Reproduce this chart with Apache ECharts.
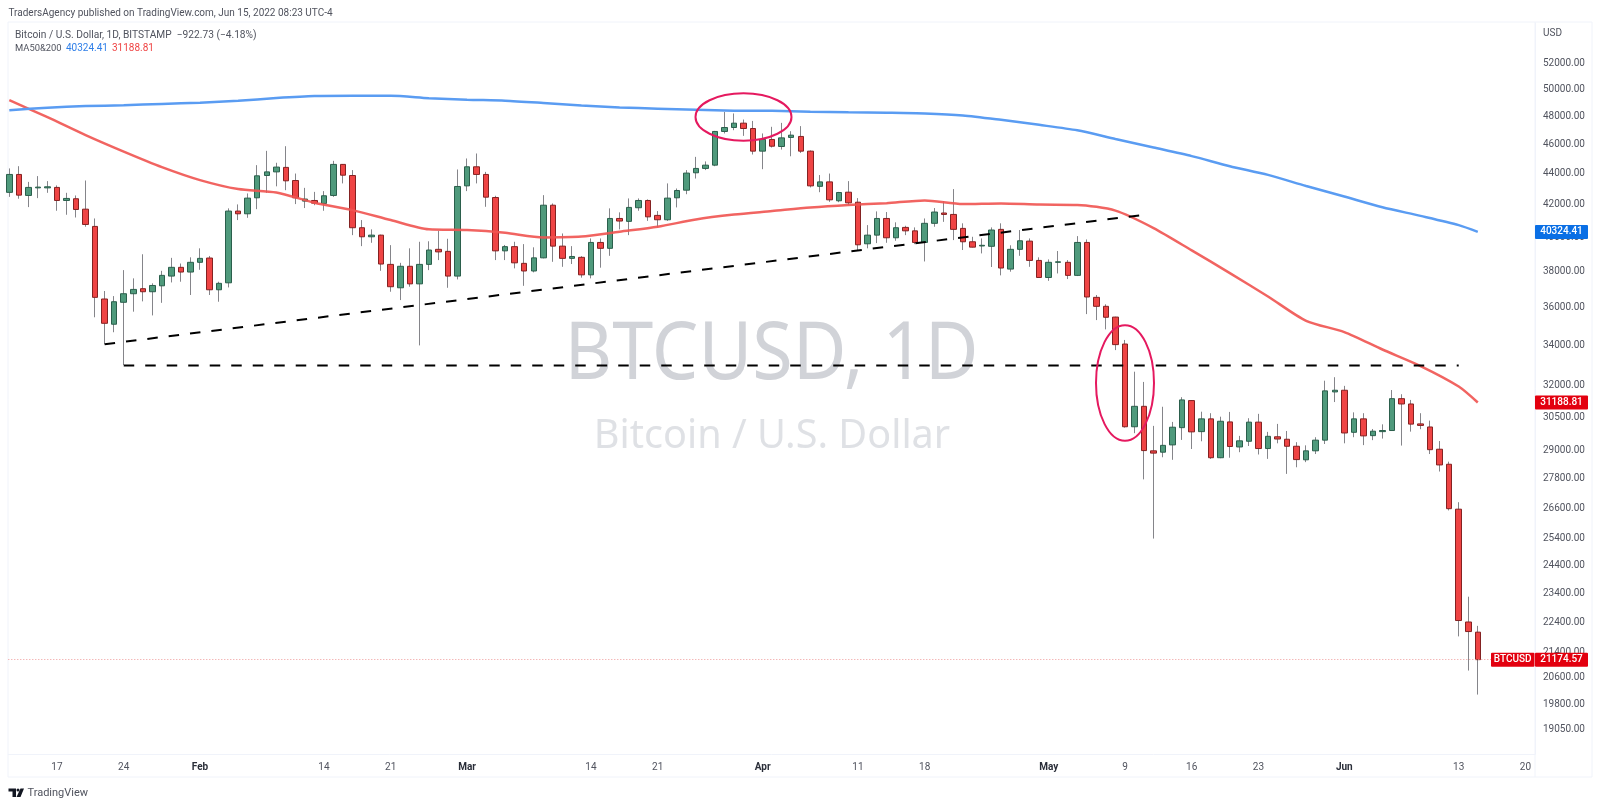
<!DOCTYPE html>
<html><head><meta charset="utf-8">
<style>html,body{margin:0;padding:0;background:#fff}#c{width:1600px;height:806px}</style>
<script src="https://cdn.jsdelivr.net/npm/echarts@6/dist/echarts.min.js"></script>
</head><body><div id="c"></div>
<script>
const dates = [
'2022-01-12','2022-01-13','2022-01-14','2022-01-15','2022-01-16','2022-01-17','2022-01-18','2022-01-19','2022-01-20','2022-01-21','2022-01-22','2022-01-23','2022-01-24','2022-01-25','2022-01-26','2022-01-27','2022-01-28','2022-01-29','2022-01-30','2022-01-31',
'2022-02-01','2022-02-02','2022-02-03','2022-02-04','2022-02-05','2022-02-06','2022-02-07','2022-02-08','2022-02-09','2022-02-10','2022-02-11','2022-02-12','2022-02-13','2022-02-14','2022-02-15','2022-02-16','2022-02-17','2022-02-18','2022-02-19','2022-02-20','2022-02-21','2022-02-22','2022-02-23','2022-02-24','2022-02-25','2022-02-26','2022-02-27','2022-02-28',
'2022-03-01','2022-03-02','2022-03-03','2022-03-04','2022-03-05','2022-03-06','2022-03-07','2022-03-08','2022-03-09','2022-03-10','2022-03-11','2022-03-12','2022-03-13','2022-03-14','2022-03-15','2022-03-16','2022-03-17','2022-03-18','2022-03-19','2022-03-20','2022-03-21','2022-03-22','2022-03-23','2022-03-24','2022-03-25','2022-03-26','2022-03-27','2022-03-28','2022-03-29','2022-03-30','2022-03-31',
'2022-04-01','2022-04-02','2022-04-03','2022-04-04','2022-04-05','2022-04-06','2022-04-07','2022-04-08','2022-04-09','2022-04-10','2022-04-11','2022-04-12','2022-04-13','2022-04-14','2022-04-15','2022-04-16','2022-04-17','2022-04-18','2022-04-19','2022-04-20','2022-04-21','2022-04-22','2022-04-23','2022-04-24','2022-04-25','2022-04-26','2022-04-27','2022-04-28','2022-04-29','2022-04-30',
'2022-05-01','2022-05-02','2022-05-03','2022-05-04','2022-05-05','2022-05-06','2022-05-07','2022-05-08','2022-05-09','2022-05-10','2022-05-11','2022-05-12','2022-05-13','2022-05-14','2022-05-15','2022-05-16','2022-05-17','2022-05-18','2022-05-19','2022-05-20','2022-05-21','2022-05-22','2022-05-23','2022-05-24','2022-05-25','2022-05-26','2022-05-27','2022-05-28','2022-05-29','2022-05-30','2022-05-31',
'2022-06-01','2022-06-02','2022-06-03','2022-06-04','2022-06-05','2022-06-06','2022-06-07','2022-06-08','2022-06-09','2022-06-10','2022-06-11','2022-06-12','2022-06-13','2022-06-14','2022-06-15'];
const opens = [
42800,43970,42600,43090,43090,43120,42280,42390,41730,40660,36450,35090,36270,36740,37020,36850,37180,37730,38230,37960,
38520,38770,36960,37350,41610,41440,42450,43900,44140,44440,43570,42240,42280,42090,42600,44640,43900,40580,40030,40130,38400,37070,38290,37290,38400,39280,39160,37730,
43220,44480,43970,42470,39190,39440,38460,38020,38780,41980,39470,38750,38810,37800,39690,39340,41150,40970,41820,42280,41340,41070,42450,42940,44080,44370,44590,46910,47190,47500,47120,
45540,46350,45860,46490,46560,45540,43190,43480,42260,42810,42170,39610,40130,41150,39970,40600,40390,39690,40850,41490,41400,40540,39730,39480,39460,40480,38130,39280,39770,38630,
37650,38520,38520,37770,39690,36540,36050,35470,34060,30070,31010,29000,28940,29260,30030,31280,29850,30430,28700,30290,29170,29420,30280,29100,29620,29510,29200,28610,29000,29470,31690,
31770,29820,30430,29670,29850,29900,31370,31120,30200,30060,29070,28420,26560,22410,22070];
const closes = [
43970,42620,43120,43140,43160,42280,42410,41710,40780,36540,35140,36300,36740,36980,36850,37200,37770,38230,37960,38520,
38750,36960,37320,41610,41440,42430,43880,44140,44460,43550,42450,42370,42110,42580,44640,43920,40580,40030,40130,38420,37130,38290,37290,38400,39240,39130,37730,43180,
44480,43970,42490,39190,39440,38490,38020,38780,41980,39470,38750,38860,37800,39690,39340,41150,40990,41840,42280,41250,41070,42430,42920,44060,44370,44590,46910,47190,47500,47120,45540,
46350,45880,46460,46650,45540,43220,43480,42320,42790,42130,39550,40130,41150,39970,40580,40390,39690,40850,41550,41400,40480,39730,39410,39520,40440,38190,39280,39790,38630,37650,
38520,38550,37770,39690,36560,36050,35460,34030,30070,31010,29010,28900,29240,30050,31310,29840,30430,28700,30320,29190,29440,30280,29100,29640,29520,29200,28620,29000,29470,31740,31770,
29790,30430,29660,29870,29900,31370,31120,30190,30130,29050,28390,26580,22460,22090,21174.57];
const lows = [
42510,42390,41860,42430,42770,41630,41380,41210,40640,35460,34050,34670,33000,35760,36320,35560,36240,37370,37410,36670,
38090,36670,36300,37090,41050,41190,41730,42770,43190,42940,42050,41800,41980,41630,42510,43380,40130,39470,39670,38030,36850,36390,37130,33990,38070,38650,37070,37540,
42880,43380,41880,38650,38650,38170,37180,37940,38750,38550,38260,38420,37640,37600,38210,38900,40480,40130,41630,41000,40600,41000,41840,42680,43700,44260,44520,46770,47000,46600,45310,
44320,45790,45650,45190,45420,43120,42810,42190,42170,41980,39240,39340,39650,39670,39790,40130,39590,38570,40640,40940,39830,39240,39390,39040,38250,37770,37980,38900,38260,37630,
37460,37880,37560,37730,35630,35310,34820,33750,30030,29780,27780,25410,28720,28610,29480,29080,29420,28650,28680,28700,28940,29210,28840,28650,29330,28010,28290,28510,28860,29300,31210,
29330,29600,29250,29470,29540,29900,29230,29850,29960,28860,28110,26510,21930,20830,20090];
const highs = [
44370,44520,43480,43860,43530,43250,42770,42600,43570,41150,36890,36610,38070,37600,38990,37320,38030,38780,38450,38810,
39340,38890,37410,41780,42030,42730,44590,45560,44750,45880,44030,43090,42830,42880,44880,44660,44260,41050,40480,40160,39530,38490,39340,39730,39760,40390,39910,44300,
45040,45380,44140,42580,39540,39730,39590,39400,42620,42090,40230,39470,38880,39930,39930,41780,41530,42410,42410,42350,41610,43380,43050,44260,45150,44840,46950,48310,48200,47760,47660,
46770,47240,47520,46930,47290,45590,43930,44030,42830,43530,42430,40740,41590,41550,40910,40700,40600,41150,41800,42240,43010,40850,40030,39930,40600,40850,39520,40440,39930,38810,
38690,39180,38650,40070,39870,36670,36160,35490,34270,32670,32170,30110,30990,30290,31440,31300,30760,30690,30530,30750,29660,30460,30660,29840,30200,29880,29380,29240,29600,32230,32400,
31980,30730,30690,29970,30180,31780,31580,31310,30690,30350,29430,28530,26840,23280,22280];

const maDates = ['2022-01-12','2022-01-16','2022-01-20','2022-01-24','2022-01-28','2022-02-01','2022-02-05','2022-02-09','2022-02-13','2022-02-17','2022-02-21','2022-02-25','2022-03-01','2022-03-05','2022-03-09','2022-03-13','2022-03-17','2022-03-21','2022-03-25','2022-03-29','2022-04-02','2022-04-06','2022-04-10','2022-04-14','2022-04-18','2022-04-22','2022-04-26','2022-04-30','2022-05-04','2022-05-08','2022-05-12','2022-05-16','2022-05-20','2022-05-24','2022-05-28','2022-06-01','2022-06-05','2022-06-09','2022-06-13','2022-06-15'];
const ma50 = [49170,47930,46650,45505,44455,43594,43010,42790,42140,41670,41050,40480,40435,40270,39990,40040,40340,40640,41090,41390,41610,41840,42000,42110,42280,42050,42090,42020,42000,41640,40560,39220,37900,36590,35270,34680,33780,32950,31950,31188.81];
const ma200 = [48436,48620,48735,48800,48900,48990,49130,49330,49480,49500,49500,49320,49205,49140,48970,48780,48640,48550,48470,48400,48390,48320,48280,48250,48200,48060,47740,47380,46990,46380,45790,45200,44520,43940,43210,42530,41850,41310,40740,40324.41];

const trendDates = ['2022-01-22','2022-05-10T12:00:00Z'];
const trendPrices = [34050,41340];
const supportDates = ['2022-01-24','2022-06-13'];
const supportPrices = [32980,32980];

const priceTicks = [52000,50000,48000,46000,44000,42000,40000,38000,36000,34000,32000,30500,29000,27800,26600,25400,24400,23400,22400,21400,20600,19800,19050];
const timeTicks = ['2022-01-17','2022-01-24','2022-02-01','2022-02-14','2022-02-21','2022-03-01','2022-03-14','2022-03-21','2022-04-01','2022-04-11','2022-04-18','2022-05-01','2022-05-09','2022-05-16','2022-05-23','2022-06-01','2022-06-13','2022-06-20'];
const monthNames = ['Jan','Feb','Mar','Apr','May','Jun'];
const lastPrice = 21174.57, lastMa50 = 31188.81, lastMa200 = 40324.41;

const T = s => Date.parse(s);
const DAY = 86400000;
const FONT = 'Roboto, sans-serif';
const UI = '"Noto Sans", sans-serif';

const chart = echarts.init(document.getElementById('c'), null, {renderer:'canvas'});
const wicks = dates.map((d,i)=>[T(d),opens[i],closes[i],lows[i],highs[i]]);
const bodies = dates.map((d,i)=>[T(d),opens[i],closes[i],Math.min(opens[i],closes[i]),Math.max(opens[i],closes[i])]);

const dashed = {color:'#000',width:2,type:[10.5,11]};
function lineSeries(name,xs,ys,style,z,extra){
  return Object.assign({name,type:'line',data:xs.map((d,i)=>[T(d),ys[i]]),symbol:'none',lineStyle:style,z,silent:true,animation:false},extra||{});
}

const option = {
  animation:false,
  backgroundColor:'#fff',
  grid:{left:8.3,right:65,top:23,bottom:52,containLabel:false},
  xAxis:{type:'value',scale:true,min:T('2022-01-12')-0.105*DAY,max:T('2022-06-21'),
    axisLine:{show:true,onZero:false,lineStyle:{color:'#f0f3fa'}},axisTick:{show:false},splitLine:{show:false},minorTick:{show:false},
    axisLabel:{customValues:timeTicks.map(T),margin:8,fontFamily:FONT,fontSize:10,color:'#50535e',hideOverlap:false,
      formatter:v=>{const d=new Date(v);return d.getUTCDate()===1?'{m|'+monthNames[d.getUTCMonth()]+'}':String(d.getUTCDate());},
      rich:{m:{fontFamily:FONT,fontSize:10,fontWeight:'bold',color:'#2a2e39'}}}},
  yAxis:{type:'log',logBase:10,position:'right',min:18370,max:55234,
    axisLine:{show:true,lineStyle:{color:'#f0f3fa'}},axisTick:{show:false},splitLine:{show:false},minorTick:{show:false},
    axisLabel:{customValues:priceTicks,margin:8,padding:[2,0,0,0],fontFamily:FONT,fontSize:10,color:'#50535e',hideOverlap:false,showMinLabel:true,showMaxLabel:true,
      formatter:v=>Number(v).toFixed(2)}},
  series:[
    {name:'wick',type:'candlestick',data:wicks,barWidth:1,z:3,silent:true,animation:false,clip:true,
      itemStyle:{color:'#85858a',color0:'#85858a',borderColor:'#85858a',borderColor0:'#85858a',borderWidth:1},
      markLine:{silent:true,symbol:'none',animation:false,label:{show:false},lineStyle:{color:'#ef9a9a',type:[1,2],width:1},data:[{yAxis:lastPrice}]}},
    {name:'BTCUSD',type:'candlestick',data:bodies,barWidth:6,z:4,silent:true,animation:false,clip:true,
      itemStyle:{color:'#4f9a7c',color0:'#ef4444',borderColor:'#2b5f4c',borderColor0:'#842222',borderWidth:1}},
    lineSeries('MA 50',maDates,ma50,{color:'#ef5350',width:2.5,opacity:0.9},5,{smooth:0.25}),
    lineSeries('MA 200',maDates,ma200,{color:'#5a9cf2',width:2.5},5,{smooth:0.25}),
    lineSeries('Trend',trendDates,trendPrices,dashed,6),
    lineSeries('Support',supportDates,supportPrices,dashed,6)
  ]
};
chart.setOption(option);

function py(v){return chart.convertToPixel({yAxisIndex:0},v);}
function tag(x,w,v,label,bg){
  const y=py(v);
  return [{type:'rect',z:20,shape:{x,y:y-7,width:w,height:14,r:1},style:{fill:bg}},
    {type:'text',z:21,style:{x:x+w/2,y,text:label,fill:'#fff',font:'500 10px '+FONT,textAlign:'center',textVerticalAlign:'middle'}}];
}
const frame='#f0f3fa';
chart.setOption({graphic:{elements:[
  {type:'rect',z:1,shape:{x:8,y:22,width:1584,height:755},style:{fill:'none',stroke:frame,lineWidth:1}},
  {type:'line',z:1,shape:{x1:1535,y1:22,x2:1535,y2:777},style:{stroke:frame,lineWidth:1}},
  {type:'text',z:1,style:{x:8.5,y:13,text:'TradersAgency published on TradingView.com, Jun 15, 2022 08:23 UTC-4',fill:'#50535e',font:'10px '+FONT,textVerticalAlign:'middle'}},
  {type:'text',z:1,style:{x:15,y:35,text:'Bitcoin / U.S. Dollar, 1D, BITSTAMP  \u2212922.73 (\u22124.18%)',fill:'#50535e',font:'10.2px '+FONT,textVerticalAlign:'middle'}},
  {type:'text',z:1,style:{x:15,y:48.5,text:'MA50&200',fill:'#50535e',font:'9.4px '+FONT,textVerticalAlign:'middle'}},
  {type:'text',z:1,style:{x:66,y:48.5,text:'40324.41',fill:'#2f7fe8',font:'10px '+FONT,textVerticalAlign:'middle'}},
  {type:'text',z:1,style:{x:112,y:48.5,text:'31188.81',fill:'#ef4444',font:'10px '+FONT,textVerticalAlign:'middle'}},
  {type:'text',z:1,style:{x:1543,y:33.5,text:'USD',fill:'#50535e',font:'10px '+FONT,textVerticalAlign:'middle'}},
  {type:'text',z:0,x:771.5,y:355.5,scaleX:0.91,style:{x:0,y:0,text:'BTCUSD, 1D',fill:'#d1d3d8',font:'81px '+UI,textAlign:'center',textVerticalAlign:'middle'}},
  {type:'text',z:0,style:{x:772,y:437,text:'Bitcoin / U.S. Dollar',fill:'#dfe1e5',font:'39.6px '+UI,textAlign:'center',textVerticalAlign:'middle'}},
  {type:'ellipse',z:10,shape:{cx:743.5,cy:117,rx:48,ry:23.7},style:{fill:'none',stroke:'#e5195f',lineWidth:2}},
  {type:'ellipse',z:10,shape:{cx:1125,cy:383,rx:29,ry:57.8},style:{fill:'none',stroke:'#e5195f',lineWidth:2}},
  ...tag(1535,53,lastMa200,'40324.41','#0a6fe5'),
  ...tag(1535,53,lastMa50,'31188.81','#e3000f'),
  ...tag(1491,43.5,lastPrice,'BTCUSD','#e3000f'),
  ...tag(1535,53,lastPrice,'21174.57','#e3000f'),
  {type:'polygon',z:2,shape:{points:[[8.5,788.5],[16,788.5],[16,797],[12.5,797],[12.5,791.5],[8.5,791.5]]},style:{fill:'#131722'}},
  {type:'circle',z:2,shape:{cx:18,cy:790,r:1.5},style:{fill:'#131722'}},
  {type:'polygon',z:2,shape:{points:[[20.5,788.5],[24,788.5],[20.5,797],[16.5,797]]},style:{fill:'#131722'}},
  {type:'text',z:2,style:{x:27.5,y:793,text:'TradingView',fill:'#50535e',font:'11px '+FONT,textVerticalAlign:'middle'}}
]}});
</script></body></html>
